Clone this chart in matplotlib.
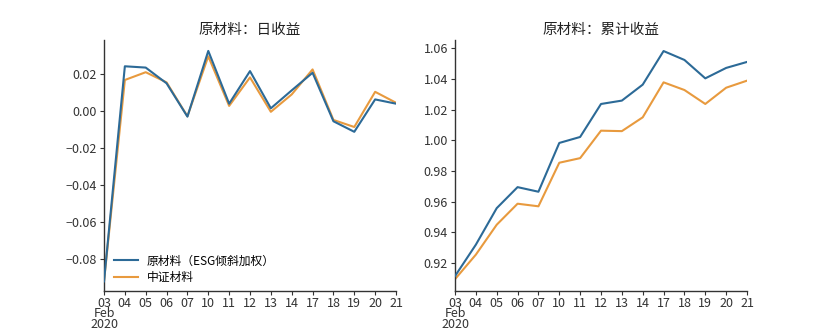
import matplotlib
matplotlib.use("Agg")
import matplotlib.pyplot as plt

plt.rcParams['font.family'] = ['Noto Sans CJK SC', 'DejaVu Sans']
plt.rcParams['axes.unicode_minus'] = False

days = ["03", "04", "05", "06", "07", "10", "11", "12", "13", "14",
        "17", "18", "19", "20", "21"]
esg_daily = [-0.092, 0.0242, 0.0235, 0.0150, -0.0030, 0.0325, 0.0040, 0.0216,
             0.0015, 0.0112, 0.0207, -0.0055, -0.0112, 0.0063, 0.0040]
csi_daily = [-0.092, 0.0168, 0.0210, 0.0155, -0.0028, 0.0296, 0.0028, 0.0182,
             -0.0004, 0.0090, 0.0225, -0.0048, -0.0086, 0.0104, 0.0045]
esg_cum = [0.9115, 0.9320, 0.9558, 0.9695, 0.9665, 0.9983, 1.0022, 1.0237,
           1.0259, 1.0363, 1.0582, 1.0524, 1.0404, 1.0472, 1.0511]
csi_cum = [0.9095, 0.9255, 0.9450, 0.9587, 0.9570, 0.9854, 0.9884, 1.0063,
           1.0060, 1.0150, 1.0378, 1.0328, 1.0237, 1.0343, 1.0389]

labels = ["原材料（ESG倾斜加权）", "中证材料"]
titles = ["原材料：日收益", "原材料：累计收益"]
blue = "#2c6a97"
orange = "#e89a3e"

fig = plt.figure(figsize=(8.3, 3.32), dpi=100)
ax1 = fig.add_axes([104 / 830, 1 - 291 / 332, 292 / 830, 251 / 332])
ax2 = fig.add_axes([455 / 830, 1 - 291 / 332, 292 / 830, 251 / 332])

x = list(range(len(days)))
tick_labels = ["03\nFeb\n2020"] + days[1:]

for ax, a, b, title in [(ax1, esg_daily, csi_daily, titles[0]),
                        (ax2, esg_cum, csi_cum, titles[1])]:
    ax.plot(x, a, color=blue, lw=1.5, label=labels[0], zorder=3)
    ax.plot(x, b, color=orange, lw=1.5, label=labels[1], zorder=2)
    ax.set_xlim(0, len(days) - 1)
    ax.set_xticks(x)
    ax.set_xticklabels(tick_labels, fontsize=9, color="#333333", va="top")
    for t in ax.get_xticklabels():
        t.set_linespacing(0.75)
    ax.tick_params(axis="both", length=3, width=0.8, colors="#333333",
                   labelsize=9, pad=2)
    ax.tick_params(axis="x", pad=1)
    for s in ["top", "right"]:
        ax.spines[s].set_visible(False)
    for s in ["left", "bottom"]:
        ax.spines[s].set_color("#333333")
        ax.spines[s].set_linewidth(1.0)
    ax.set_title(title, fontsize=10.5, color="#222222", pad=4)

ax1.set_ylim(-0.0972, 0.0384)
ax1.set_yticks([-0.08, -0.06, -0.04, -0.02, 0.00, 0.02])
ax1.set_yticklabels(["−0.08", "−0.06", "−0.04", "−0.02", "0.00", "0.02"])
ax2.set_ylim(0.9018, 1.0654)
ax2.set_yticks([0.92, 0.94, 0.96, 0.98, 1.00, 1.02, 1.04, 1.06])
ax2.set_yticklabels(["0.92", "0.94", "0.96", "0.98", "1.00", "1.02", "1.04", "1.06"])

ax1.legend(loc="lower left", frameon=False, fontsize=8.5, handlelength=2.0,
           borderaxespad=0.2, labelspacing=0.3, bbox_to_anchor=(0.01, 0.0))

fig.savefig("out.png", dpi=100, facecolor="white")
